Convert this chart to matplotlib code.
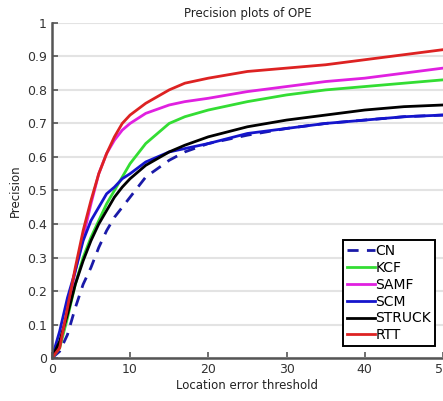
import numpy as np
import matplotlib.pyplot as plt

thresholds = [0, 1, 2, 3, 4, 5, 6, 7, 8, 9, 10, 12, 15, 17, 20, 25, 30, 35, 40, 45, 50]

cn     = [0, 0.02, 0.07, 0.15, 0.22, 0.27, 0.33, 0.38, 0.42, 0.45, 0.48, 0.54, 0.59, 0.615, 0.64, 0.665, 0.685, 0.70, 0.71, 0.72, 0.725]
kcf    = [0, 0.03, 0.12, 0.22, 0.30, 0.36, 0.41, 0.46, 0.50, 0.54, 0.58, 0.64, 0.70, 0.72, 0.74, 0.765, 0.785, 0.80, 0.81, 0.82, 0.83]
samf   = [0, 0.04, 0.14, 0.26, 0.36, 0.46, 0.55, 0.61, 0.65, 0.68, 0.70, 0.73, 0.755, 0.765, 0.775, 0.795, 0.81, 0.825, 0.835, 0.85, 0.865]
scm    = [0, 0.08, 0.18, 0.26, 0.35, 0.41, 0.45, 0.49, 0.51, 0.535, 0.55, 0.585, 0.615, 0.625, 0.64, 0.67, 0.685, 0.70, 0.71, 0.72, 0.725]
struck = [0, 0.05, 0.13, 0.22, 0.29, 0.35, 0.40, 0.44, 0.48, 0.51, 0.535, 0.575, 0.615, 0.635, 0.66, 0.69, 0.71, 0.725, 0.74, 0.75, 0.755]
rtt    = [0, 0.03, 0.15, 0.27, 0.38, 0.47, 0.55, 0.61, 0.66, 0.70, 0.725, 0.76, 0.80, 0.82, 0.835, 0.855, 0.865, 0.875, 0.89, 0.905, 0.92]

fig = plt.figure(figsize=(4.43, 4.01), dpi=100)
ax = fig.add_axes([0.117, 0.107, 0.883, 0.836])

ax.plot(thresholds, cn, '--', color='#1a1aa8', lw=2, label='CN', dashes=(4, 3))
ax.plot(thresholds, kcf, color='#33dd33', lw=2, label='KCF')
ax.plot(thresholds, samf, color='#e020e0', lw=2, label='SAMF')
ax.plot(thresholds, scm, color='#1515cc', lw=2, label='SCM')
ax.plot(thresholds, struck, color='black', lw=2, label='STRUCK')
ax.plot(thresholds, rtt, color='#dd2222', lw=2, label='RTT')

ax.set_xlim(0, 50)
ax.set_ylim(0, 1)
ax.set_xticks([0, 10, 20, 30, 40, 50])
ax.set_yticks(np.arange(0, 1.01, 0.1))
ax.set_yticklabels(['0', '0.1', '0.2', '0.3', '0.4', '0.5', '0.6', '0.7', '0.8', '0.9', '1'])
ax.yaxis.grid(True, color='#e3e3e3', lw=1.5)
ax.set_axisbelow(True)
ax.tick_params(direction='in', colors='#555555', labelcolor='#333333', labelsize=9, length=4, width=1.2)
for s in ['top', 'right']:
    ax.spines[s].set_visible(False)
for s in ['left', 'bottom']:
    ax.spines[s].set_color('#555555')
    ax.spines[s].set_linewidth(1.8)

ax.set_title('Precision plots of OPE', fontsize=8.5, color='#222222', pad=4)
ax.set_xlabel('Location error threshold', fontsize=8.5, color='#222222', labelpad=2)
ax.set_ylabel('Precision', fontsize=8.5, color='#222222', labelpad=4)

leg = ax.legend(loc='upper left', bbox_to_anchor=(0.744, 0.352), fontsize=10,
                handlelength=2.0, handletextpad=0.05, labelspacing=0.2,
                borderpad=0.3, borderaxespad=0, fancybox=False, framealpha=1)
leg.get_frame().set_edgecolor('black')
leg.get_frame().set_linewidth(1.4)

fig.savefig('out.png', dpi=100)
